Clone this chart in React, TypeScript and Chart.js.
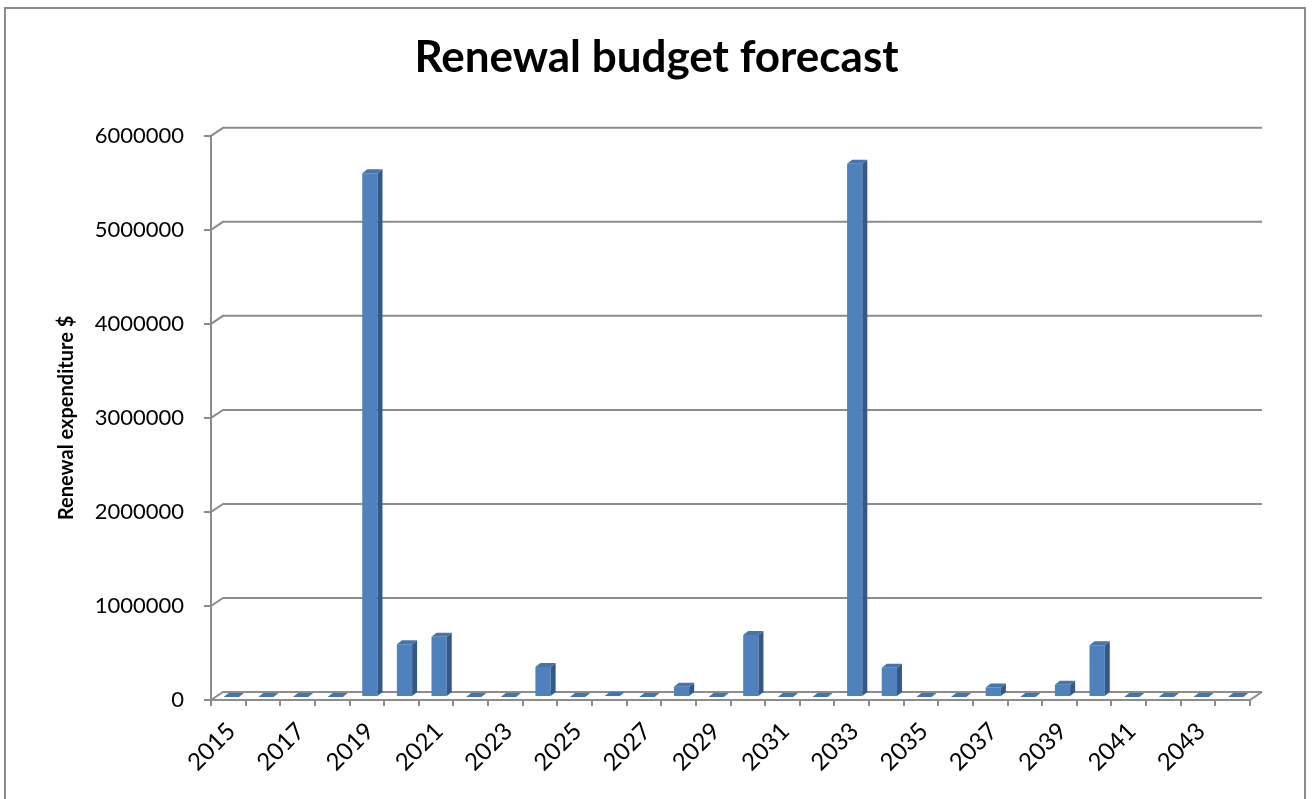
import React, { useEffect, useRef } from "react";
import { Chart, registerables } from "chart.js";

Chart.register(...registerables);

const years: string[] = [
  "2015", "2016", "2017", "2018", "2019", "2020", "2021", "2022", "2023", "2024",
  "2025", "2026", "2027", "2028", "2029", "2030", "2031", "2032", "2033", "2034",
  "2035", "2036", "2037", "2038", "2039", "2040", "2041", "2042", "2043", "2044",
];

const expenditure: number[] = [
  0, 0, 0, 0, 5570000, 560000, 640000, 0, 0, 320000,
  0, 10000, 0, 110000, 0, 660000, 0, 0, 5670000, 310000,
  0, 0, 100000, 0, 130000, 550000, 0, 0, 0, 0,
];

const yMin = 0;
const yMax = 6000000;
const yStep = 1000000;

const chartTitle = "Renewal budget forecast";
const yAxisTitle = "Renewal expenditure $";

const FONT = "Lato, 'Open Sans', sans-serif";
const AXIS_GRAY = "#8c8c8c";
const FRONT = "#4f81bd";
const SIDE = "#34588a";
const TOP = "#4674ad";

const WALL_DX = 12;
const WALL_DY = 8;
const BAR_DX = 5;
const BAR_DY = 4;
const BAR_SHIFT = 3;

const wall3d = {
  id: "wall3d",
  beforeDatasetsDraw(chart: any) {
    const { ctx, chartArea, scales } = chart;
    const ys = scales.y;
    ctx.save();
    ctx.strokeStyle = AXIS_GRAY;
    ctx.lineWidth = 2;
    ys.ticks.forEach((t: any) => {
      const py = ys.getPixelForValue(t.value);
      ctx.beginPath();
      ctx.moveTo(chartArea.left, py);
      ctx.lineTo(chartArea.left + WALL_DX, py - WALL_DY);
      ctx.lineTo(chartArea.right + WALL_DX, py - WALL_DY);
      ctx.stroke();
    });
    const p0 = ys.getPixelForValue(0);
    ctx.beginPath();
    ctx.moveTo(chartArea.right, p0);
    ctx.lineTo(chartArea.right + WALL_DX, p0 - WALL_DY);
    ctx.stroke();
    ctx.restore();
    ctx.save();
    ctx.translate(BAR_SHIFT, -BAR_SHIFT);
  },
  afterDatasetsDraw(chart: any) {
    const ctx = chart.ctx;
    const meta = chart.getDatasetMeta(0);
    meta.data.forEach((bar: any) => {
      const { x, y, base, width } = bar.getProps(["x", "y", "base", "width"], true);
      const l = x - width / 2;
      const r = x + width / 2;
      ctx.fillStyle = SIDE;
      ctx.beginPath();
      ctx.moveTo(r, y);
      ctx.lineTo(r + BAR_DX, y - BAR_DY);
      ctx.lineTo(r + BAR_DX, base - BAR_DY);
      ctx.lineTo(r, base);
      ctx.closePath();
      ctx.fill();
      ctx.fillStyle = TOP;
      ctx.beginPath();
      ctx.moveTo(l, y);
      ctx.lineTo(l + BAR_DX, y - BAR_DY);
      ctx.lineTo(r + BAR_DX, y - BAR_DY);
      ctx.lineTo(r, y);
      ctx.closePath();
      ctx.fill();
    });
    ctx.restore();
  },
};

export default function App() {
  const ref = useRef<HTMLCanvasElement>(null);
  useEffect(() => {
    const chart = new Chart(ref.current as HTMLCanvasElement, {
      type: "bar",
      data: {
        labels: years,
        datasets: [
          {
            label: "Renewal expenditure",
            data: expenditure,
            backgroundColor: FRONT,
            borderWidth: 0,
            barPercentage: 0.44,
            categoryPercentage: 1,
          },
        ],
      },
      options: {
        responsive: false,
        animation: false,
        layout: { padding: 0 },
        plugins: {
          legend: { display: false },
          tooltip: { enabled: false },
          title: {
            display: true,
            text: chartTitle,
            color: "#000",
            font: { family: FONT, size: 44, weight: "bold" },
            padding: { top: 31, bottom: 52 },
          },
        },
        scales: {
          x: {
            afterFit: (s: any) => {
              s.height = 99;
            },
            grid: {
              display: true,
              drawOnChartArea: false,
              drawTicks: true,
              tickLength: 6,
              color: AXIS_GRAY,
              lineWidth: 2,
              offset: true,
            },
            border: { display: true, color: AXIS_GRAY, width: 2 },
            ticks: {
              autoSkip: false,
              maxRotation: 45,
              minRotation: 45,
              color: "#000",
              padding: 11,
              labelOffset: 3,
              font: { family: FONT, size: 24 },
              callback: (_v: any, i: number) => (i % 2 === 0 ? years[i] : ""),
            },
          },
          y: {
            min: yMin,
            max: yMax,
            afterFit: (s: any) => {
              s.width = 211;
            },
            grid: {
              display: true,
              drawOnChartArea: false,
              drawTicks: true,
              tickLength: 7,
              color: AXIS_GRAY,
              lineWidth: 2,
            },
            border: { display: true, color: AXIS_GRAY, width: 2 },
            ticks: {
              stepSize: yStep,
              color: "#000",
              padding: 20,
              font: { family: FONT, size: 22 },
              callback: (v: any) => String(v),
            },
            title: {
              display: true,
              text: yAxisTitle,
              color: "#000",
              font: { family: FONT, size: 20, weight: "bold" },
              padding: { top: 55, bottom: 0 },
            },
          },
          yRight: {
            type: "linear",
            position: "right",
            display: true,
            afterFit: (s: any) => {
              s.width = 63;
            },
            grid: { display: false, drawTicks: false },
            border: { display: false },
            ticks: { display: false },
          },
        },
      },
      plugins: [wall3d],
    });
    return () => chart.destroy();
  }, []);

  return (
    <div
      style={{
        position: "fixed",
        left: 0,
        top: 0,
        width: 1313,
        height: 799,
        overflow: "hidden",
        background: "#fff",
      }}
    >
      <div
        style={{
          position: "absolute",
          left: 4,
          top: 7,
          width: 1302,
          height: 820,
          border: `2px solid ${AXIS_GRAY}`,
          boxSizing: "border-box",
        }}
      />
      <canvas
        ref={ref}
        width={1313}
        height={799}
        style={{ position: "absolute", left: 0, top: 0 }}
      />
    </div>
  );
}
